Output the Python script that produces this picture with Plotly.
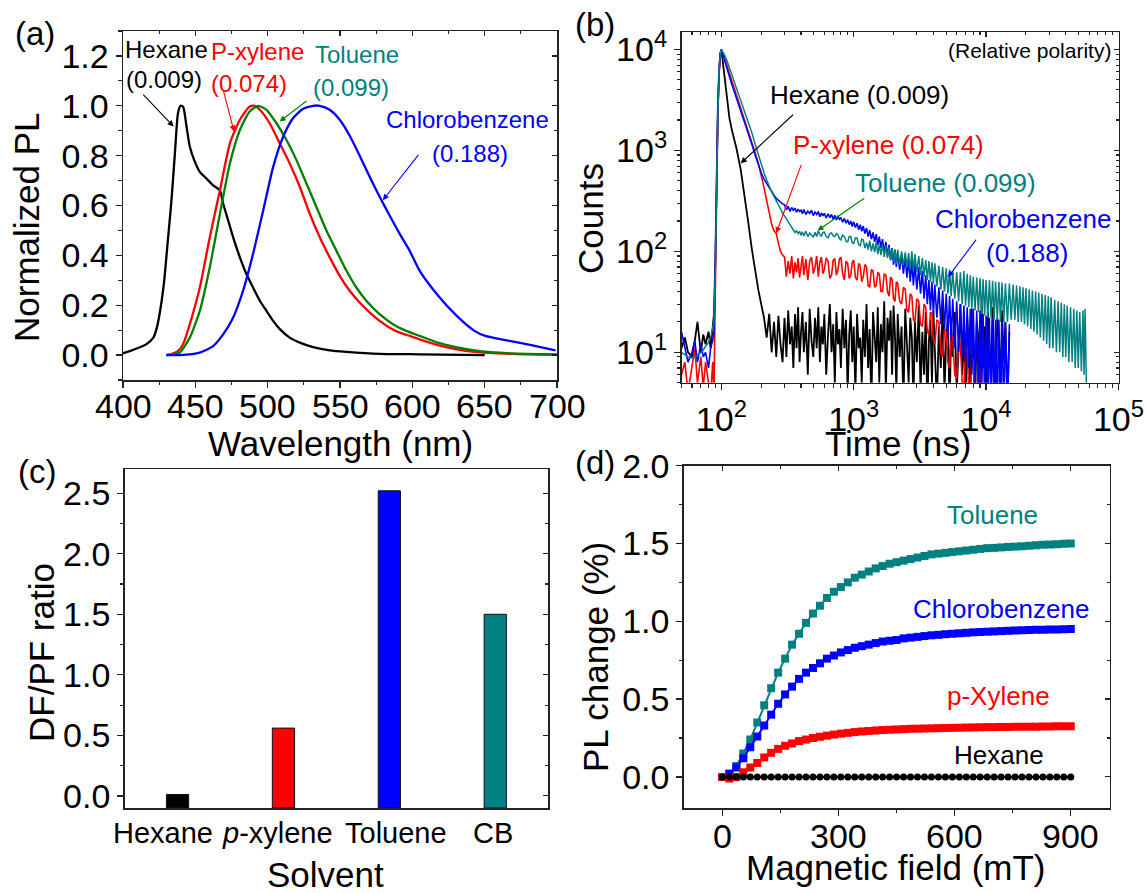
import math
import plotly.graph_objects as go

FONT = "Liberation Sans, Arial, Helvetica, sans-serif"
W, H = 1146, 893
BLACK, RED, GREEN, TEAL, BLUE = "#000000", "#FF0000", "#008000", "#008080", "#0000FF"
AX = "#222222"

# ---------------- (a) normalized PL spectra ----------------
HEX_WL = [400, 408, 416, 421, 423.4, 426, 428.5, 431, 433.5, 436,
          438, 439.8, 441.6, 443.9, 446.2, 449.7, 453.1, 457.7, 462.3, 467,
          469.2, 472.7, 476.1, 480.8, 485.3, 489.9, 494.6, 499.2, 503.8, 508.4,
          515.2, 522.2, 531.4, 542.9, 554.4, 577.4, 605, 650]
HEX_PL = [0.007, 0.023, 0.043, 0.07, 0.11, 0.19, 0.30, 0.46, 0.62, 0.82,
          0.97, 1.0, 0.995, 0.917, 0.836, 0.775, 0.735, 0.708, 0.681, 0.661,
          0.608, 0.54, 0.473, 0.392, 0.325, 0.271, 0.218, 0.177, 0.137, 0.104,
          0.07, 0.05, 0.032, 0.019, 0.013, 0.005, 0.003, 0.0]

XYL_WL = [430, 434, 437, 439.3, 442, 446.2, 453.1, 460, 467, 473.9,
          480.8, 487.6, 491.1, 494.6, 501.4, 508.4, 515.2, 522.2, 529.1, 536,
          542.9, 549.8, 556.7, 563.6, 570.5, 577.4, 584.3, 591.2, 598.1, 605,
          617.6, 630, 642.9, 668, 700]
XYL_PL = [0.0, 0.005, 0.012, 0.023, 0.05, 0.124, 0.271, 0.473, 0.661, 0.849,
          0.944, 0.997, 1.0, 0.984, 0.93, 0.849, 0.769, 0.675, 0.567, 0.473,
          0.392, 0.318, 0.258, 0.211, 0.171, 0.137, 0.110, 0.090, 0.077, 0.063,
          0.04, 0.024, 0.013, 0.005, 0.001]

TOL_WL = [430, 435, 439.3, 442, 446.2, 453.1, 460, 467, 473.9, 480.8,
          487.6, 493.4, 499.2, 506.1, 513, 519.9, 526.8, 533.7, 540.6, 547.5,
          554.4, 561.3, 568.2, 577.4, 586.6, 595.8, 605, 617.6, 630, 642.9,
          668, 700]
TOL_PL = [0.0, 0.003, 0.01, 0.03, 0.07, 0.177, 0.352, 0.567, 0.769, 0.903,
          0.977, 1.0, 0.984, 0.93, 0.863, 0.782, 0.688, 0.594, 0.50, 0.419,
          0.339, 0.271, 0.218, 0.164, 0.124, 0.097, 0.077, 0.05, 0.032, 0.019,
          0.007, 0.003]

CB_WL = [430, 439.3, 453.1, 462.3, 469.2, 476.1, 483, 489.9, 496.9, 503.8,
         510.7, 517.5, 524.5, 531.4, 536, 542.9, 549.8, 556.7, 563.6, 570.5,
         577.4, 584.3, 591.2, 598.1, 605, 617.6, 630.2, 642.9, 650.4, 668,
         683, 699]
CB_PL = [0.0, 0.0, 0.01, 0.036, 0.083, 0.15, 0.258, 0.406, 0.58, 0.755,
         0.876, 0.95, 0.988, 1.0, 1.0, 0.984, 0.944, 0.88, 0.80, 0.715,
         0.635, 0.56, 0.487, 0.419, 0.339, 0.24, 0.16, 0.097, 0.077, 0.056,
         0.039, 0.019]
WL_TICKS = [400, 450, 500, 550, 600, 650, 700]

# ---------------- (b) time-resolved PL ----------------
TIME = [50, 53, 56, 60, 63, 66, 70, 73, 76, 80,
        83, 86, 88, 90, 92, 94, 96, 98, 100, 105,
        110, 115, 120, 130, 140, 150, 160, 170, 180, 190,
        200, 210, 220, 230, 240, 250, 260, 270, 280, 290,
        300, 310, 320, 330, 340, 350, 360, 370, 380, 390,
        400, 410, 420, 435, 450, 465, 480, 495, 510, 525,
        540, 555, 570, 585, 600, 620, 640, 660, 680, 700,
        720, 740, 760, 780, 800, 825, 850, 875, 900, 925,
        950, 975, 1000, 1030, 1060, 1090, 1120, 1150, 1180, 1215,
        1250, 1285, 1320, 1360, 1400, 1440, 1480, 1520, 1560, 1605,
        1650, 1700, 1750, 1800, 1850, 1900, 1950, 2000, 2050, 2100,
        2150, 2225, 2300, 2375, 2450, 2525, 2600, 2675, 2750, 2825,
        2900, 3000, 3100, 3200, 3300, 3400, 3500, 3600, 3700, 3800,
        3900, 4000, 4100, 4250, 4400, 4550, 4700, 4850, 5000, 5150,
        5300, 5450, 5600, 5800, 6000, 6200, 6400, 6600, 6800, 7000,
        7200, 7400, 7600, 7800, 8000, 8250, 8500, 8750, 9000, 9250,
        9500, 9750, 10000, 10300, 10600, 10900, 11200, 11500, 11800, 12150,
        12500, 12850, 13200, 13600, 14000, 14500, 15000,
        15500, 16000, 16500, 17000, 17500, 18000, 18500, 19000, 19500, 20000,
        20600, 21200, 21800, 22400, 23000, 23700, 24300, 25000, 25700, 26500,
        27200, 28000, 28700, 29500, 30200, 31000, 32000, 33000, 34000, 35000,
        36000, 37000, 38000, 39000, 40000, 41000, 42200, 43500, 44700, 46000,
        47200, 48500, 49700, 51000, 52500, 54000, 55000, 56000, 57000, 57500]

HEX_CT = [11, 14, 10, 9, 13, 20, 10, 15, 12, 16,
          11, 18, 24, 80, 600, 2500, 6000, 9000, 10000, 5500,
          3400, 2100, 1600, 1050, 650, 360, 190, 105, 65, 42,
          30, 22, 14, 24, 10, 20, 9, 23, 12, 8,
          22, 9, 26, 12, 18, 7, 24, 11, 28, 8,
          16, 25, 10, 20, 6, 27, 13, 9, 22, 11,
          28, 8, 18, 12, 24, 6, 15, 30, 10, 19,
          5, 25, 12, 17, 7, 27, 11, 21, 4, 15,
          26, 8, 18, 4, 24, 11, 14, 5, 21, 9,
          30, 7, 17, 3, 25, 12, 8, 28, 5, 19,
          10, 32, 4, 22, 13, 26, 6, 29, 15, 4,
          24, 9, 18, 3, 27, 12, 5, 22, 14, 3,
          20, 8, 29, 4, 16, 6, 25, 2.5, 13, 21,
          5, 26, 11, 3, 18, 7, 28, 4, 14, 22,
          2.5, 19, 9, 25, 4, 13, 30, 6, 17, 3,
          23, 11, 4, 27, 9, 2.5, 20, 14, 4, 31,
          7, 18, 3, 25, 12, 5, 28, 9, 2.5, 22,
          14, 4, 26, 8, 20, 3, 16]

XYL_CT = [6, 8, 4, 7, 11, 5, 9, 4.5, 8, 5,
          3.5, 8, 4, 40, 400, 2000, 5500, 8800, 10000, 8500,
          7000, 5800, 4900, 3600, 2700, 2000, 1550, 1200, 950, 750,
          580, 430, 320, 240, 185, 160, 150, 120, 100, 92,
          88, 56, 80, 60, 90, 54, 78, 62, 86, 55,
          72, 90, 58, 84, 52, 80, 88, 60, 70, 90,
          56, 78, 88, 60, 66, 86, 80, 54, 58, 82,
          85, 58, 66, 84, 88, 60, 52, 80, 76, 54,
          58, 78, 82, 55, 52, 76, 72, 50, 56, 74,
          70, 46, 44, 66, 64, 44, 46, 62, 60, 40,
          40, 60, 58, 40, 36, 56, 52, 34, 32, 50,
          48, 32, 30, 44, 42, 26, 25, 38, 36, 21,
          20, 34, 32, 19, 18, 30, 28, 16, 15, 25,
          24, 13, 12, 21, 20, 10, 9, 17, 16, 8,
          7, 15, 14, 6, 5.5, 13, 12, 5, 4.5, 11,
          10, 4, 3.5, 9, 8.5, 3, 2.5, 7, 6.5, 2.5,
          5, 2]

CB_CT = [16, 11, 8, 10, 13, 8, 12, 9, 10, 7,
         11, 13, 16, 70, 500, 2300, 5800, 9000, 10000, 8000,
         6500, 5300, 4500, 3300, 2500, 1900, 1450, 1150, 900, 720,
         600, 520, 470, 420, 390, 360, 335, 320, 305, 295,
         290, 258, 280, 248, 272, 255, 268, 244, 262, 248,
         256, 236, 260, 232, 250, 238, 255, 226, 245, 232,
         248, 220, 240, 225, 238, 214, 236, 216, 232, 208,
         228, 204, 225, 208, 215, 195, 212, 190, 206, 184,
         200, 176, 196, 172, 190, 164, 184, 158, 178, 150,
         170, 140, 162, 132, 154, 124, 148, 116, 140, 108,
         132, 98, 124, 90, 116, 82, 108, 74, 104, 70,
         98, 66, 92, 60, 88, 55, 84, 50, 80, 46,
         76, 42, 70, 38, 64, 34, 58, 30, 52, 26,
         50, 24, 47, 22, 44, 19, 41, 17, 38, 14.5,
         36, 13, 34, 11, 32, 10, 30, 9, 29, 8,
         28, 7, 27, 6, 27, 5, 26, 4, 26, 3.5,
         24, 3, 23, 2.8, 22, 2.5, 22, 2.5, 21, 2.5,
         21, 2.5, 20, 2.5, 20, 2.5, 19]

TOL_CT = [10, 9.5, 9, 8.8, 8.9, 9.3, 10, 10.5, 11.5, 12.5,
          14, 17, 20, 60, 450, 2200, 5700, 8900, 10000, 9000,
          7800, 6600, 5600, 4200, 3200, 2500, 1900, 1500, 1150, 900,
          720, 600, 510, 440, 390, 350, 315, 285, 260, 240,
          225, 210, 198, 185, 172, 162, 154, 160, 150, 158,
          144, 156, 142, 158, 140, 152, 146, 138, 155, 140,
          160, 146, 142, 154, 155, 140, 136, 150, 152, 142,
          140, 150, 146, 134, 130, 145, 140, 126, 124, 140,
          140, 122, 120, 136, 136, 116, 114, 132, 130, 108,
          122, 104, 128, 100, 120, 98, 124, 94, 116, 92,
          118, 88, 114, 86, 110, 82, 108, 80, 104, 76,
          104, 74, 100, 72, 98, 70, 96, 66, 100, 64,
          94, 62, 90, 58, 86, 56, 82, 52, 80, 50,
          78, 48, 76, 45, 72, 42, 70, 40, 68, 38,
          66, 36, 64, 34, 62, 32, 62, 30, 64, 29,
          60, 28, 58, 27, 56, 26, 55, 25, 54, 24,
          53, 23, 52, 22, 52, 22, 51, 21, 50, 21,
          50, 20, 49, 20, 48, 20, 48,
          21, 47, 21, 46, 20, 45, 20, 44, 19, 43,
          18, 42, 17, 41, 16, 40, 15, 39, 14, 38,
          13, 37, 12, 36, 11, 35, 11, 33, 10, 32,
          10, 31, 9, 30, 9, 29, 8, 28, 8, 27,
          7, 26, 7, 25, 6.5, 26, 6, 27, 5.5, 3.5]

# ---------------- (c) DF/PF ratio ----------------
SOLVENTS = ["Hexane", "p-xylene", "Toluene", "CB"]
SOLVENT_LABELS = ["Hexane", "<i>p</i>-xylene", "Toluene", "CB"]
DFPF = [0.012, 0.56, 2.52, 1.50]
BAR_COLORS = [BLACK, RED, BLUE, TEAL]
Y3_MIN = -0.1  # bars are drawn up from the bottom of the axis

# ---------------- (d) magneto-PL ----------------
FIELD = [0, 18, 36, 54, 72, 90, 108, 126, 144, 162,
         180, 198, 216, 234, 252, 270, 288, 306, 324, 342,
         360, 378, 396, 414, 432, 450, 468, 486, 504, 522,
         540, 558, 576, 594, 612, 630, 648, 666, 684, 702,
         720, 738, 756, 774, 792, 810, 828, 846, 864, 882, 900]
MPL_TOL = [0.00, 0.02, 0.07, 0.15, 0.24, 0.35, 0.46, 0.57, 0.67, 0.76,
           0.85, 0.92, 0.99, 1.05, 1.10, 1.15, 1.19, 1.22, 1.25, 1.28,
           1.30, 1.32, 1.34, 1.355, 1.37, 1.38, 1.39, 1.40, 1.41, 1.42,
           1.43, 1.435, 1.44, 1.445, 1.45, 1.455, 1.46, 1.465, 1.47, 1.472,
           1.475, 1.478, 1.48, 1.483, 1.486, 1.489, 1.492, 1.494, 1.496, 1.498, 1.50]
MPL_CB = [0.00, 0.02, 0.06, 0.12, 0.19, 0.26, 0.33, 0.40, 0.47, 0.53,
          0.58, 0.63, 0.67, 0.70, 0.73, 0.76, 0.78, 0.80, 0.815, 0.83,
          0.84, 0.85, 0.86, 0.87, 0.875, 0.88, 0.89, 0.895, 0.90, 0.905,
          0.91, 0.913, 0.917, 0.92, 0.923, 0.926, 0.929, 0.931, 0.933, 0.935,
          0.937, 0.939, 0.941, 0.943, 0.944, 0.945, 0.946, 0.947, 0.948, 0.949, 0.95]
MPL_XYL = [0.00, -0.01, 0.00, 0.03, 0.06, 0.09, 0.125, 0.155, 0.18, 0.20,
           0.215, 0.23, 0.24, 0.25, 0.258, 0.265, 0.272, 0.278, 0.283, 0.288,
           0.292, 0.295, 0.298, 0.301, 0.303, 0.305, 0.307, 0.309, 0.31, 0.311,
           0.312, 0.313, 0.314, 0.315, 0.316, 0.317, 0.318, 0.319, 0.32, 0.32,
           0.321, 0.321, 0.322, 0.322, 0.323, 0.323, 0.324, 0.324, 0.325, 0.325, 0.325]
MPL_HEX = [0, 0, 0, 0, 0, 0, 0, 0, 0, 0,
           0, 0, 0, 0, 0, 0, 0, 0, 0, 0,
           0, 0, 0, 0, 0, 0, 0, 0, 0, 0,
           0, 0, 0, 0, 0, 0, 0, 0, 0, 0,
           0, 0, 0, 0, 0, 0, 0, 0, 0, 0, 0]
FIELD_TICKS = [0, 300, 600, 900]

# ---------------- figure ----------------
fig = go.Figure()

for wl, pl, c in [(HEX_WL, HEX_PL, BLACK), (XYL_WL, XYL_PL, RED),
                  (TOL_WL, TOL_PL, GREEN), (CB_WL, CB_PL, BLUE)]:
    fig.add_trace(go.Scatter(x=wl, y=pl, mode="lines", line=dict(color=c, width=2.3, shape="spline", smoothing=0.6),
                             xaxis="x", yaxis="y", hoverinfo="skip"))

for ct, c, lw in [(HEX_CT, BLACK, 1.8), (XYL_CT, RED, 1.6), (CB_CT, BLUE, 1.6), (TOL_CT, TEAL, 1.5)]:
    fig.add_trace(go.Scatter(x=TIME[:len(ct)], y=ct, mode="lines", line=dict(color=c, width=lw),
                             xaxis="x2", yaxis="y2", hoverinfo="skip"))

fig.add_trace(go.Bar(x=SOLVENTS, y=[v - Y3_MIN for v in DFPF], base=Y3_MIN, width=0.21,
                     marker=dict(color=BAR_COLORS, line=dict(color="#111", width=1)),
                     xaxis="x3", yaxis="y3", hoverinfo="skip"))

for vals, c, sym, sz in [(MPL_TOL, TEAL, "square", 8), (MPL_CB, BLUE, "square", 8),
                         (MPL_XYL, RED, "square", 8), (MPL_HEX, BLACK, "circle", 7)]:
    fig.add_trace(go.Scatter(x=FIELD, y=vals, mode="lines+markers", line=dict(color=c, width=2),
                             marker=dict(symbol=sym, size=sz, color=c, line=dict(width=0)),
                             xaxis="x4", yaxis="y4", hoverinfo="skip"))

# empty traces so that the mirrored (inward tick) axes are drawn
for i in range(5, 9):
    fig.add_trace(go.Scatter(x=[], y=[], xaxis=f"x{i}", yaxis=f"y{i}", showlegend=False, hoverinfo="skip"))

def dx(l, r):
    return [l / W, r / W]

def dy(t, b):
    return [1 - b / H, 1 - t / H]

def base(**kw):
    d = dict(showline=True, linecolor=AX, linewidth=1.5, mirror=True, ticks="outside",
             ticklen=6, tickwidth=1.3, tickcolor=AX, showgrid=False, zeroline=False,
             tickfont=dict(family=FONT, size=34, color="black"), fixedrange=True,
             automargin=False)
    d.update(kw)
    return d

LOGMINOR_X = [m * 10 ** e for e in range(1, 5) for m in range(2, 10)]
LOGMINOR_Y = [m * 10 ** e for e in range(0, 4) for m in range(2, 10)]
minor_lin = lambda dt: dict(ticks="outside", ticklen=3.5, tickwidth=1.1, tickcolor=AX, dtick=dt, showgrid=False)

ax = {}
ax["xaxis"] = base(domain=dx(123, 557), range=[400, 700], tick0=400, dtick=50, anchor="y",
                   minor=minor_lin(25), showticklabels=False)
ax["yaxis"] = base(domain=dy(31, 380), range=[-0.1, 1.3], tick0=0, dtick=0.2, tickformat=".1f",
                   anchor="x", minor=minor_lin(0.1))
ax["xaxis2"] = base(domain=dx(681.5, 1118.7), type="log", range=[math.log10(50), 5.002], anchor="y2",
                    tickmode="array", tickvals=[100, 1000, 10000, 100000],
                    ticktext=["10<sup>2</sup>", "10<sup>3</sup>", "10<sup>4</sup>", "10<sup>5</sup>"],
                    minor=dict(ticks="outside", ticklen=3.5, tickwidth=1.1, tickcolor=AX,
                               tickmode="array", tickvals=LOGMINOR_X, showgrid=False))
ax["yaxis2"] = base(domain=dy(32.3, 382.7), type="log", range=[math.log10(5), 4.17], anchor="x2",
                    tickmode="array", tickvals=[10, 100, 1000, 10000],
                    ticktext=["10<sup>1</sup>", "10<sup>2</sup>", "10<sup>3</sup>", "10<sup>4</sup>"],
                    minor=dict(ticks="outside", ticklen=3.5, tickwidth=1.1, tickcolor=AX,
                               tickmode="array", tickvals=LOGMINOR_Y, showgrid=False))
ax["xaxis3"] = base(domain=dx(124.6, 548.2), type="category", range=[-0.5, 3.5], anchor="y3",
                    ticks="", showticklabels=False)
ax["yaxis3"] = base(domain=dy(469, 808), range=[Y3_MIN, 2.7], tick0=0, dtick=0.5, tickformat=".1f",
                    anchor="x3", minor=minor_lin(0.25))
ax["xaxis4"] = base(domain=dx(683.7, 1109.5), range=[-100, 1000], tick0=0, dtick=300, anchor="y4",
                    minor=minor_lin(150), showticklabels=False)
ax["yaxis4"] = base(domain=dy(465.7, 808), range=[-0.2, 2.0001], tick0=0, dtick=0.5, tickformat=".1f",
                    anchor="x4", minor=minor_lin(0.25))

# mirrored inward ticks on top / right
for i in range(1, 5):
    bx = ax["xaxis" if i == 1 else f"xaxis{i}"]
    by = ax["yaxis" if i == 1 else f"yaxis{i}"]
    ox = dict(overlaying="x" if i == 1 else f"x{i}", side="top", anchor=f"y{i+4}",
              range=bx["range"], showline=False, showgrid=False, zeroline=False,
              showticklabels=False, ticks="inside" if bx.get("ticks") != "" else "",
              ticklen=5, tickwidth=1.2, tickcolor=AX, fixedrange=True, automargin=False)
    oy = dict(overlaying="y" if i == 1 else f"y{i}", side="right", anchor=f"x{i+4}",
              range=by["range"], showline=False, showgrid=False, zeroline=False,
              showticklabels=False, ticks="inside", ticklen=5, tickwidth=1.2, tickcolor=AX,
              fixedrange=True, automargin=False)
    for k in ("type", "tick0", "dtick", "tickmode", "tickvals"):
        if k in bx:
            ox[k] = bx[k]
        if k in by:
            oy[k] = by[k]
    if "minor" in bx:
        m = dict(bx["minor"]); m["ticks"] = "inside"; m["ticklen"] = 3
        ox["minor"] = m
    if "minor" in by:
        m = dict(by["minor"]); m["ticks"] = "inside"; m["ticklen"] = 3
        oy["minor"] = m
    ax[f"xaxis{i+4}"] = ox
    ax[f"yaxis{i+4}"] = oy

fig.update_layout(**ax)

ann = []

def txt(text, x, y, xref, yref, size, color=BLACK, xanchor="center", angle=0):
    ann.append(dict(text=text, x=x, y=y, xref=xref, yref=yref, showarrow=False, xanchor=xanchor,
                    yanchor="middle", textangle=angle, font=dict(family=FONT, size=size, color=color)))

def arrow(x, y, axp, ayp, xref, yref, color):
    ann.append(dict(text="", x=x, y=y, ax=axp, ay=ayp, xref=xref, yref=yref, axref=xref, ayref=yref,
                    showarrow=True, arrowhead=2, arrowsize=1.1, arrowwidth=1.1, arrowcolor=color))

# x tick labels of (a) and (d), placed at the reference's height
for v in WL_TICKS:
    txt(str(v), v, 1 - 406 / H, "x", "paper", 34)
for v in FIELD_TICKS:
    txt(str(v), v, 1 - 836 / H, "x4", "paper", 34)

# panel letters
txt("(a)", 35 / W, 1 - 33 / H, "paper", "paper", 33)
txt("(b)", 595 / W, 1 - 25 / H, "paper", "paper", 33)
txt("(c)", 37 / W, 1 - 472 / H, "paper", "paper", 33)
txt("(d)", 595 / W, 1 - 462 / H, "paper", "paper", 33)

# axis titles
txt("Wavelength (nm)", 340 / W, 1 - 444 / H, "paper", "paper", 35)
txt("Normalized PL", 26 / W, 1 - 227 / H, "paper", "paper", 35, angle=-90)
txt("Time (ns)", 898 / W, 1 - 444 / H, "paper", "paper", 35)
txt("Counts", 590 / W, 1 - 219 / H, "paper", "paper", 35, angle=-90)
txt("Solvent", 325 / W, 1 - 874 / H, "paper", "paper", 35)
txt("DF/PF ratio", 41 / W, 1 - 653 / H, "paper", "paper", 35, angle=-90)
txt("Magnetic field (mT)", 896 / W, 1 - 867 / H, "paper", "paper", 35)
txt("PL change (%)", 595 / W, 1 - 657 / H, "paper", "paper", 35, angle=-90)

# (c) category labels, placed as in the reference
for lab, px in zip(SOLVENT_LABELS, [163, 277, 396, 493]):
    txt(lab, px / W, 1 - 833 / H, "paper", "paper", 29)

# (a) labels
txt("Hexane", 430.4, 1.226, "x", "y", 24)
txt("(0.009)", 428.3, 1.105, "x", "y", 24)
txt("P-xylene", 493.2, 1.218, "x", "y", 24, RED)
txt("(0.074)", 487.0, 1.089, "x", "y", 24, RED)
txt("Toluene", 561.5, 1.206, "x", "y", 24, TEAL)
txt("(0.099)", 557.4, 1.073, "x", "y", 24, TEAL)
txt("Chlorobenzene", 638.1, 0.944, "x", "y", 24, BLUE)
txt("(0.188)", 640.2, 0.810, "x", "y", 24, BLUE)
arrow(435, 0.917, 413, 1.051, "x", "y", BLACK)
arrow(476.8, 0.896, 469.2, 1.065, "x", "y", RED)
arrow(508.3, 0.937, 527.9, 1.024, "x", "y", GREEN)
arrow(579.6, 0.621, 605, 0.809, "x", "y", BLUE)

# (b) labels (log coordinates)
txt("(Relative polarity)", 4.33, 3.993, "x2", "y2", 21)
txt("Hexane (0.009)", 3.046, 3.548, "x2", "y2", 26)
txt("P-xylene (0.074)", 3.261, 3.053, "x2", "y2", 26, RED)
txt("Toluene (0.099)", 3.695, 2.675, "x2", "y2", 26, TEAL)
txt("Chlorobenzene", 4.281, 2.318, "x2", "y2", 26, BLUE)
txt("(0.188)", 4.311, 1.982, "x2", "y2", 26, BLUE)
arrow(2.1464, 2.872, 2.5525, 3.367, "x2", "y2", BLACK)
arrow(2.4144, 2.180, 2.6077, 2.872, "x2", "y2", RED)
arrow(2.7265, 2.206, 3.0912, 2.536, "x2", "y2", GREEN)
arrow(3.7127, 1.745, 3.9337, 2.131, "x2", "y2", BLUE)

# (d) labels
txt("Toluene", 698, 1.683, "x4", "y4", 26, TEAL)
txt("Chlorobenzene", 719, 1.078, "x4", "y4", 26, BLUE)
txt("p-Xylene", 714, 0.521, "x4", "y4", 26, RED)
txt("Hexane", 715.6, 0.14, "x4", "y4", 26, BLACK)

fig.update_layout(annotations=ann, width=W, height=H, autosize=False,
                  margin=dict(l=0, r=0, t=0, b=0, pad=0), showlegend=False,
                  paper_bgcolor="white", plot_bgcolor="white",
                  font=dict(family=FONT, color="black"), bargap=0.5)

fig.write_html("out.html", config={"displayModeBar": False, "staticPlot": True},
               post_script="document.body.style.margin='0';document.body.style.overflow='hidden';")
